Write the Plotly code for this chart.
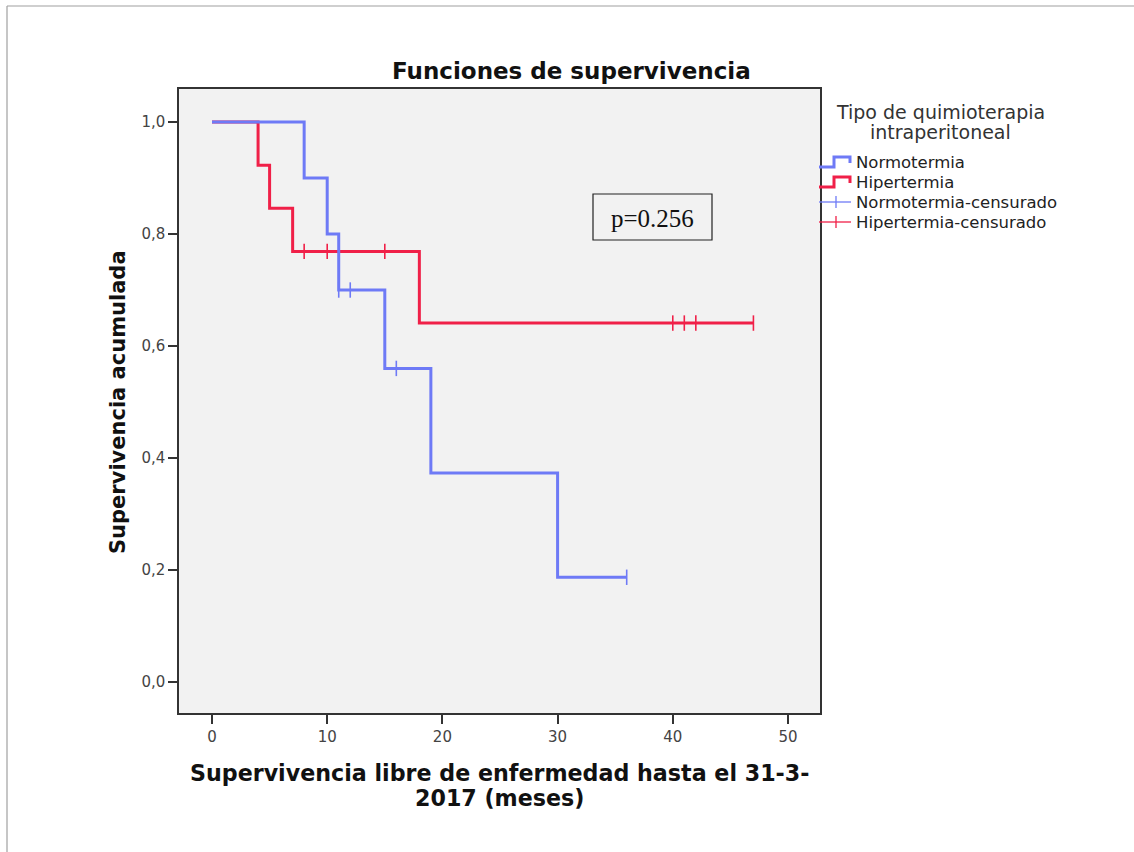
import plotly.graph_objects as go

# ---------------- data ----------------
norm_t = [0, 8, 10, 11, 15, 19, 30, 36]
norm_s = [1.0, 0.9, 0.8, 0.7, 0.56, 0.373, 0.187, 0.187]
norm_cens_t = [11, 12, 16, 36]
norm_cens_s = [0.7, 0.7, 0.56, 0.187]

hip_t = [0, 4, 5, 7, 18, 47]
hip_s = [1.0, 0.923, 0.846, 0.769, 0.641, 0.641]
hip_cens_t = [8, 10, 15, 40, 41, 42, 47]
hip_cens_s = [0.769, 0.769, 0.769, 0.641, 0.641, 0.641, 0.641]

y_ticks = [0.0, 0.2, 0.4, 0.6, 0.8, 1.0]
y_ticklabels = ["0,0", "0,2", "0,4", "0,6", "0,8", "1,0"]
x_ticks = [0, 10, 20, 30, 40, 50]

title_text = "Funciones de supervivencia"
x_title_lines = ["Supervivencia libre de enfermedad hasta el 31-3-", "2017 (meses)"]
y_title = "Supervivencia acumulada"
legend_title_lines = ["Tipo de quimioterapia", "intraperitoneal"]
legend_names = ["Normotermia", "Hipertermia", "Normotermia-censurado", "Hipertermia-censurado"]
p_text = "p=0.256"

BLUE = "rgb(110,122,246)"
RED = "rgb(240,32,72)"

# ---------------- layout geometry (pixels) ----------------
W, H = 1134, 852
L, R, T, B = 179, 820, 89, 713


def px(x):
    return (x - L) / (R - L)


def py(y):
    return (B - y) / (B - T)


fig = go.Figure()

fig.add_trace(go.Scatter(x=hip_t, y=hip_s, mode="lines", line=dict(color=RED, width=3, shape="hv"),
                         name=legend_names[1], showlegend=False))
fig.add_trace(go.Scatter(x=norm_t, y=norm_s, mode="lines", line=dict(color=BLUE, width=3, shape="hv"),
                         name=legend_names[0], showlegend=False))
fig.add_trace(go.Scatter(x=hip_cens_t, y=hip_cens_s, mode="markers",
                         marker=dict(symbol="line-ns-open", size=11, color=RED,
                                     line=dict(color=RED, width=1.6)),
                         name=legend_names[3], showlegend=False))
fig.add_trace(go.Scatter(x=norm_cens_t, y=norm_cens_s, mode="markers",
                         marker=dict(symbol="line-ns-open", size=11, color=BLUE,
                                     line=dict(color=BLUE, width=1.6)),
                         name=legend_names[2], showlegend=False))

tickfont = dict(family="DejaVu Sans", size=15, color="#444")

fig.update_xaxes(range=[-2.865, 52.78], tickvals=x_ticks, ticks="outside", ticklen=9, tickwidth=1.5,
                 tickcolor="#333", showline=True, linecolor="#333", linewidth=1.5, mirror=True,
                 showgrid=False, zeroline=False, tickfont=tickfont)
fig.update_yaxes(range=[-0.0554, 1.059], tickvals=y_ticks, ticktext=y_ticklabels, ticks="outside",
                 ticklen=9, tickwidth=1.5, tickcolor="#333", showline=True, linecolor="#333",
                 linewidth=1.5, mirror=True, showgrid=False, zeroline=False, tickfont=tickfont)

shapes = []
annotations = []

# outer frame (top and left edges)
shapes.append(dict(type="line", xref="paper", yref="paper", x0=px(7), x1=px(W + 5), y0=py(6), y1=py(6),
                   line=dict(color="#a0a0a0", width=1.2)))
shapes.append(dict(type="line", xref="paper", yref="paper", x0=px(7), x1=px(7), y0=py(6), y1=py(H + 5),
                   line=dict(color="#a0a0a0", width=1.2)))

# title
annotations.append(dict(text=f"<b>{title_text}</b>", xref="paper", yref="paper",
                        x=px(571), y=py(71), showarrow=False, xanchor="center", yanchor="middle",
                        font=dict(family="DejaVu Sans", size=23, color="#111")))
# axis titles
for line, yy in zip(x_title_lines, [773, 798]):
    annotations.append(dict(text=f"<b>{line}</b>", xref="paper", yref="paper", x=px(499), y=py(yy),
                            showarrow=False, xanchor="center", yanchor="middle",
                            font=dict(family="DejaVu Sans", size=22.2, color="#111")))
annotations.append(dict(text=f"<b>{y_title}</b>", xref="paper", yref="paper",
                        x=px(118), y=py(402), showarrow=False, textangle=-90,
                        xanchor="center", yanchor="middle",
                        font=dict(family="DejaVu Sans", size=21, color="#111")))

# p-value box
shapes.append(dict(type="rect", xref="paper", yref="paper", x0=px(593), x1=px(712), y0=py(194), y1=py(240),
                   line=dict(color="#222", width=1.2), fillcolor="rgba(0,0,0,0)"))
annotations.append(dict(text=p_text, xref="paper", yref="paper", x=px(652.5), y=py(218), showarrow=False,
                        xanchor="center", yanchor="middle",
                        font=dict(family="Liberation Serif", size=25, color="#111")))

# legend (custom)
for line, yy in zip(legend_title_lines, [112, 132]):
    annotations.append(dict(text=line, xref="paper", yref="paper", x=px(940), y=py(yy),
                            showarrow=False, xanchor="center", yanchor="middle",
                            font=dict(family="DejaVu Sans", size=19, color="#333")))

leg_rows = [162, 182, 202, 222]
leg_colors = [BLUE, RED, BLUE, RED]
for i, (name, row, col) in enumerate(zip(legend_names, leg_rows, leg_colors)):
    if i < 2:
        pts = [(819, row + 5), (834, row + 5), (834, row - 5), (850, row - 5), (850, row + 1)]
        path = "M " + " L ".join(f"{px(a)},{py(b)}" for a, b in pts)
        shapes.append(dict(type="path", xref="paper", yref="paper", path=path,
                           line=dict(color=col, width=3)))
    else:
        shapes.append(dict(type="line", xref="paper", yref="paper", x0=px(819), x1=px(851),
                           y0=py(row), y1=py(row), line=dict(color=col, width=1.3)))
        shapes.append(dict(type="line", xref="paper", yref="paper", x0=px(836), x1=px(836),
                           y0=py(row - 6), y1=py(row + 6), line=dict(color=col, width=1.3)))
    annotations.append(dict(text=name, xref="paper", yref="paper", x=px(854), y=py(row),
                            showarrow=False, xanchor="left", yanchor="middle",
                            font=dict(family="DejaVu Sans", size=16.5, color="#222")))

fig.update_layout(width=W, height=H, margin=dict(l=L, r=W - R, t=T, b=H - B),
                  paper_bgcolor="white", plot_bgcolor="#f2f2f2", showlegend=False,
                  shapes=shapes, annotations=annotations)

fig.write_html("out.html")
